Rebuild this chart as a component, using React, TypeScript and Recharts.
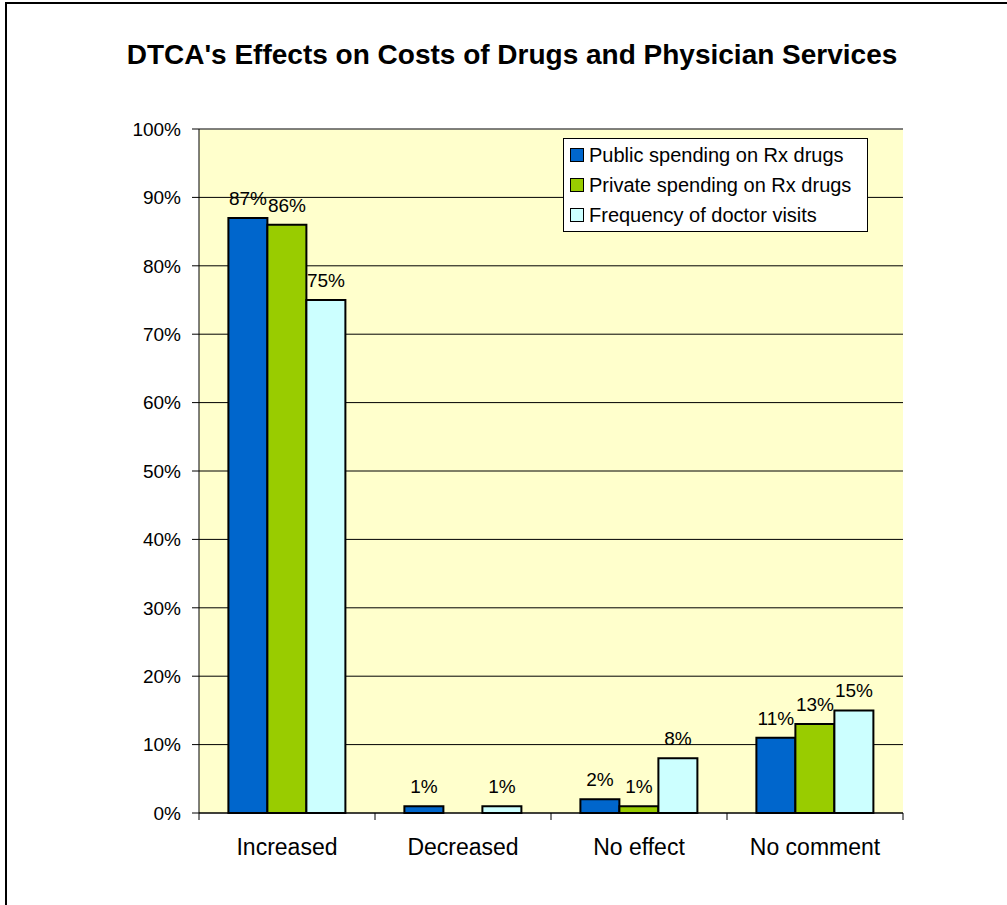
import React from "react";
import { BarChart, Bar, XAxis, YAxis, CartesianGrid, LabelList, Legend, ReferenceLine } from "recharts";

const categories = ["Increased", "Decreased", "No effect", "No comment"];
const publicSpending = [87, 1, 2, 11];
const privateSpending = [86, 0, 1, 13];
const doctorVisits = [75, 1, 8, 15];
const yTicks = [0, 10, 20, 30, 40, 50, 60, 70, 80, 90, 100];

const series = [
  { key: "pub", name: "Public spending on Rx drugs", color: "#0066CC" },
  { key: "priv", name: "Private spending on Rx drugs", color: "#99CC00" },
  { key: "visits", name: "Frequency of doctor visits", color: "#CCFFFF" },
];

const data = categories.map((c, i) => ({
  name: c,
  pub: publicSpending[i],
  priv: privateSpending[i],
  visits: doctorVisits[i],
}));

const FONT = "Arial, 'Liberation Sans', sans-serif";
const BAND = 176;

if (typeof document !== "undefined") {
  document.documentElement.style.overflow = "hidden";
  document.body.style.margin = "0";
  document.body.style.overflow = "hidden";
}

// tick marks sit between categories, like the original
const XTick = (props: any) => {
  const { x, y, payload, index } = props;
  const left = x - BAND / 2;
  return (
    <g>
      <line x1={left} y1={y - 7} x2={left} y2={y} stroke="#000" />
      {index === categories.length - 1 && (
        <line x1={x + BAND / 2} y1={y - 7} x2={x + BAND / 2} y2={y} stroke="#000" />
      )}
      <text x={x} y={y + 35} textAnchor="middle" fontSize={23} fontFamily={FONT} fill="#000">
        {payload.value}
      </text>
    </g>
  );
};

const LegendBox = () => (
  <div
    style={{
      border: "1px solid #000",
      background: "#fff",
      width: 305,
      padding: "1px 0 1px 6px",
      fontFamily: FONT,
      fontSize: 20,
      boxSizing: "border-box",
      textAlign: "left",
    }}
  >
    {series.map((s) => (
      <div key={s.key} style={{ display: "flex", alignItems: "center", height: 30 }}>
        <span
          style={{
            display: "inline-block",
            width: 12,
            height: 12,
            background: s.color,
            border: "1px solid #000",
            marginRight: 5,
          }}
        />
        <span style={{ whiteSpace: "nowrap" }}>{s.name}</span>
      </div>
    ))}
  </div>
);

export default function App() {
  return (
    <div style={{ position: "absolute", left: 0, top: 0, width: 1007, height: 905, overflow: "hidden", background: "#fff" }}>
      {/* outer frame: only left and top edges are in view */}
      <div style={{ position: "absolute", left: 5, top: 2, width: 2, height: 903, background: "#000" }} />
      <div style={{ position: "absolute", left: 5, top: 2, width: 1002, height: 2, background: "#000" }} />
      <div
        style={{
          position: "absolute",
          left: 0,
          top: 39,
          width: 1024,
          textAlign: "center",
          fontFamily: FONT,
          fontWeight: "bold",
          fontSize: 28,
          whiteSpace: "nowrap",
        }}
      >
        DTCA's Effects on Costs of Drugs and Physician Services
      </div>
      <div style={{ position: "absolute", left: 0, top: 0 }}>
        <BarChart
          width={1007}
          height={905}
          data={data}
          margin={{ top: 129, right: 104, bottom: 52, left: 139 }}
          barCategoryGap="16.7%"
          barGap={0}
        >
          <CartesianGrid fill="#FFFFCC" vertical={false} stroke="#000" />
          <XAxis
            dataKey="name"
            height={40}
            tickLine={false}
            tickSize={7}
            tickMargin={0}
            axisLine={{ stroke: "#000" }}
            tick={<XTick />}
            interval={0}
          />
          <YAxis
            domain={[0, 100]}
            ticks={yTicks}
            width={60}
            tickSize={7}
            tickMargin={11}
            tickLine={{ stroke: "#000" }}
            axisLine={{ stroke: "#000" }}
            tickFormatter={(v: number) => `${v}%`}
            tick={{ fontSize: 19, fontFamily: FONT, fill: "#000" }}
            interval={0}
          />
          <YAxis
            yAxisId="r"
            orientation="right"
            domain={[0, 100]}
            width={0}
            tick={false}
            tickLine={false}
            axisLine={{ stroke: "#808080" }}
          />
          <ReferenceLine y={100} stroke="#808080" />
          <Legend
            layout="vertical"
            align="center"
            verticalAlign="middle"
            content={<LegendBox />}
            wrapperStyle={{ position: "absolute", left: 563, top: 138, width: 305 }}
          />
          {series.map((s) => (
            <Bar
              key={s.key}
              dataKey={s.key}
              name={s.name}
              fill={s.color}
              stroke="#000"
              strokeWidth={2}
              isAnimationActive={false}
            >
              <LabelList
                dataKey={s.key}
                position="top"
                offset={13}
                fontSize={19}
                fontFamily={FONT}
                fill="#000"
                formatter={(v: any) => (v > 0 ? `${v}%` : "")}
              />
            </Bar>
          ))}
        </BarChart>
      </div>
    </div>
  );
}
